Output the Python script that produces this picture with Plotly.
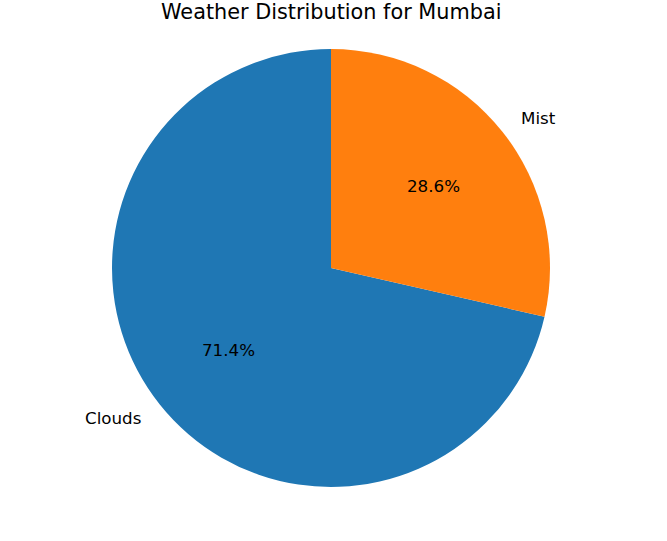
import math
import plotly.graph_objects as go

labels = ["Clouds", "Mist"]
values = [5, 2]
colors = ["#1f77b4", "#ff7f0e"]
title = "Weather Distribution for Mumbai"

W, H = 667, 541
cx, cy, r = 331, 268, 219
ml, mr, mt, mb = cx - r, W - (cx + r), cy - r, H - (cy + r)

total = sum(values)
fig = go.Figure(go.Pie(
    labels=labels, values=values, sort=False, direction="clockwise",
    rotation=-360 * values[0] / total, marker=dict(colors=colors, line=dict(width=0)),
    textinfo="none", hoverinfo="label+percent", showlegend=False,
))

start = 90.0
annotations = []
font = dict(family="DejaVu Sans", size=16.7, color="black")
for lab, v in zip(labels, values):
    frac = v / total
    mid = math.radians(start + frac * 360 / 2)
    start += frac * 360
    px = 0.5 + 0.6 * 0.5 * math.cos(mid)
    py = 0.5 + 0.6 * 0.5 * math.sin(mid)
    annotations.append(dict(x=px, y=py, xref="paper", yref="paper", text=f"{frac*100:.1f}%",
                            showarrow=False, font=font, xanchor="center", yanchor="middle"))
    lx = 0.5 + 1.1 * 0.5 * math.cos(mid)
    ly = 0.5 + 1.1 * 0.5 * math.sin(mid)
    annotations.append(dict(x=lx, y=ly, xref="paper", yref="paper", text=lab, showarrow=False,
                            font=font, xanchor="left" if math.cos(mid) > 0 else "right",
                            yanchor="middle"))

annotations.append(dict(x=0.5, y=1, xref="paper", yref="paper", yshift=23, text=title,
                        showarrow=False, font=dict(family="DejaVu Sans", size=20.8, color="black"),
                        xanchor="center", yanchor="bottom"))

fig.update_layout(
    width=W, height=H, margin=dict(l=ml, r=mr, t=mt, b=mb, autoexpand=False),
    paper_bgcolor="white", plot_bgcolor="white", annotations=annotations,
)
fig.write_html("out.html")
